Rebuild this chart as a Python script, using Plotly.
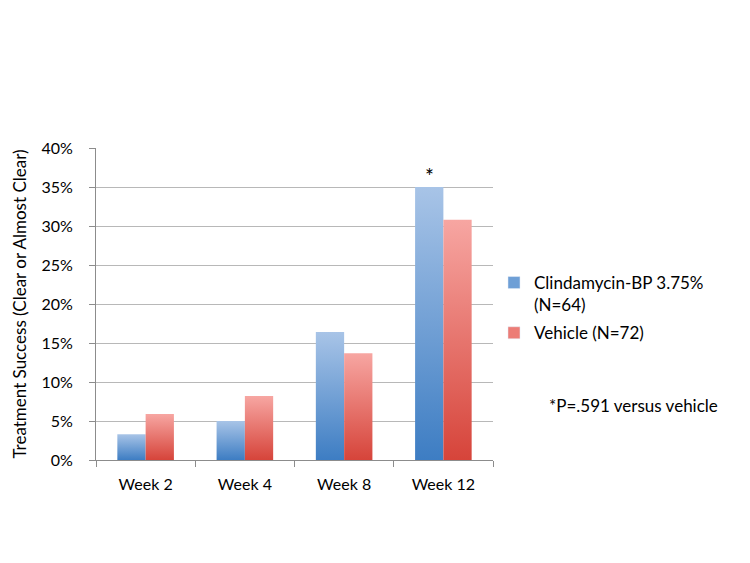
import plotly.graph_objects as go

weeks = ["Week 2", "Week 4", "Week 8", "Week 12"]
clinda = [3.3, 5.0, 16.4, 35.0]
vehicle = [5.9, 8.2, 13.7, 30.8]
series_names = ["Clindamycin-BP 3.75%<br>(N=64)", "Vehicle (N=72)"]
y_ticks = [0, 5, 10, 15, 20, 25, 30, 35, 40]
footnote = "*P=.591 versus vehicle"

BAR_W = 0.285
styles = [
    dict(values=clinda, offset=-BAR_W / 2, dark="#3D7DC3", light="#A8C4E7", solid="#6E9FD6"),
    dict(values=vehicle, offset=BAR_W / 2, dark="#D6443A", light="#F7A6A2", solid="#EC7C76"),
]

fig = go.Figure()

# plotly bars can't do gradients, so each bar is a filled polygon with a vertical fillgradient
for s in styles:
    for i, v in enumerate(s["values"]):
        x0 = i + s["offset"] - BAR_W / 2
        x1 = i + s["offset"] + BAR_W / 2
        fig.add_trace(go.Scatter(
            x=[x0, x1, x1, x0, x0], y=[0, 0, v, v, 0],
            mode="lines", line=dict(width=0), fill="toself",
            fillgradient=dict(type="vertical", colorscale=[[0, s["dark"]], [1, s["light"]]]),
            showlegend=False, hoverinfo="skip",
        ))

# legend entries
for k, (name, s) in enumerate(zip(series_names, styles)):
    fig.add_trace(go.Bar(x=[None], y=[None], name=name, marker_color=s["solid"],
                         legendgroup=f"g{k}"))

fig.add_annotation(x=3 - BAR_W / 2, y=clinda[3], text="*", showarrow=False,
                   yanchor="bottom", yshift=-3, font=dict(size=21, color="black"))
fig.add_annotation(x=(547 - 94) / 399, y=(460 - 405) / 312, xref="paper", yref="paper",
                   text=footnote, showarrow=False, xanchor="left", yanchor="middle",
                   font=dict(size=17, color="black"))

# the page body adds an 8px offset, so margins are shifted to compensate
fig.update_layout(
    width=750, height=563,
    margin=dict(l=86, r=265, t=140, b=111),
    plot_bgcolor="white", paper_bgcolor="white",
    font=dict(family="Lato, Open Sans, sans-serif", size=16, color="black"),
    showlegend=True,
    legend=dict(x=1.0025, y=0.625, xanchor="left", yanchor="top", valign="top",
                font=dict(size=17), traceorder="grouped", tracegroupgap=3),
    xaxis=dict(
        range=[-0.5, 3.5], tickvals=list(range(len(weeks))), ticktext=weeks,
        ticks="", showgrid=False, zeroline=False,
        showline=True, linecolor="#8C8C8C", linewidth=1,
        minor=dict(ticks="outside", tick0=-0.5, dtick=1, ticklen=6, tickcolor="#8C8C8C"),
        tickfont=dict(size=16), ticklabelstandoff=10,
    ),
    yaxis=dict(
        range=[0, 40], tickvals=y_ticks, ticktext=[f"{t}%" for t in y_ticks],
        ticks="outside", ticklen=6, tickcolor="#8C8C8C",
        showgrid=True, gridcolor="#B8B8B8", zeroline=False,
        showline=True, linecolor="#8C8C8C", linewidth=1,
        title=dict(text="Treatment Success (Clear or Almost Clear)", font=dict(size=17), standoff=10),
        tickfont=dict(size=16), ticklabelstandoff=13,
    ),
)

fig.write_html("out.html")
